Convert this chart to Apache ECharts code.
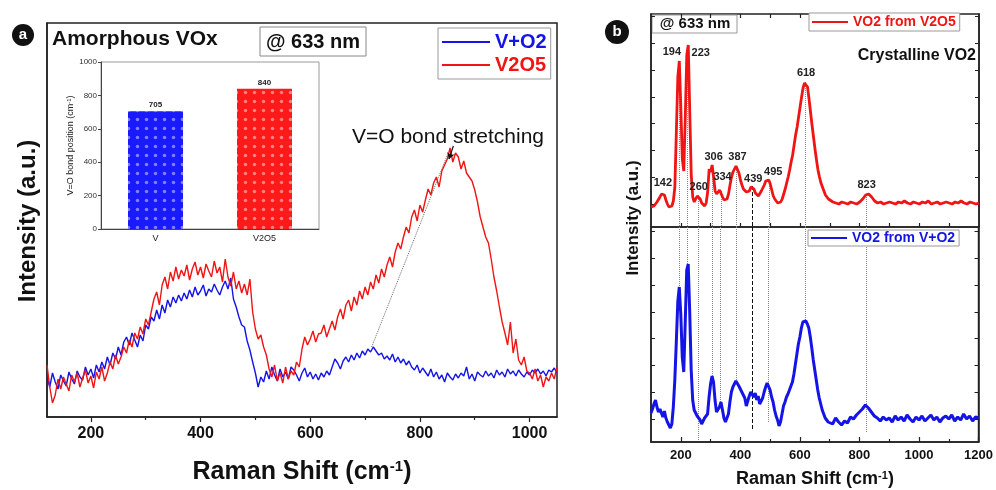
<!DOCTYPE html>
<html>
<head>
<meta charset="utf-8">
<script src="https://cdn.jsdelivr.net/npm/echarts@6/dist/echarts.min.js"></script>
<style>
  html, body { margin: 0; padding: 0; background: #fff; }
  #chart { width: 996px; height: 490px; }
</style>
</head>
<body>
<div id="chart"></div>
<script>
// sampling grid helper (x positions only)
function steps(a, b, s) {
  const r = [];
  for (let v = a; v <= b + 1e-9; v += s) r.push(v);
  return r;
}

// ---- panel a: amorphous VOx, 120..1050 cm-1 every 5 ----
const aX = steps(120, 1050, 5);
const aRed = [
  52, 30, 14, 22, 38, 28, 40, 33, 26, 42,
  35, 44, 30, 39, 47, 34, 41, 29, 45, 38,
  50, 36, 44, 55, 48, 62, 53, 60, 70, 64,
  77, 70, 84, 78, 90, 83, 98, 92, 105, 118,
  125, 112, 132, 140, 128, 145, 136, 150, 138, 147,
  141, 152, 137, 148, 155, 142, 150, 139, 153, 146,
  140, 156, 144, 150, 135, 158, 140, 131, 145, 128,
  136, 124, 133, 122, 138, 105, 88, 78, 82, 70,
  62, 48, 40, 52, 36, 44, 34, 50, 38, 46,
  42, 55, 50, 68, 80, 72, 78, 86, 75, 83,
  84, 92, 80, 88, 96, 87, 100, 108, 98, 112,
  117, 106, 120, 112, 126, 118, 130, 122, 135, 128,
  142, 134, 148, 140, 152, 160, 150, 165, 174, 168,
  180, 190, 184, 200, 207, 196, 212, 205, 217, 228,
  222, 234, 240, 230, 246, 252, 258, 269, 255, 264,
  260, 248, 256, 244, 240, 236, 227, 215, 200, 190,
  180, 174, 158, 140, 126, 110, 95, 84, 72, 95,
  64, 78, 57, 52, 60, 46, 44, 38, 48, 36,
  42, 30, 40, 36, 44, 38, 50
];
const aBlue = [
  40, 30, 44, 35, 28, 42, 36, 31, 45, 38,
  33, 46, 40, 37, 50, 42, 48, 39, 52, 45,
  55, 48, 60, 52, 64, 58, 70, 62, 75, 80,
  72, 84, 77, 70, 82, 76, 92, 88, 100, 96,
  107, 98, 112, 104, 117, 110, 120, 114, 122, 116,
  124, 118, 127, 120, 130, 122, 126, 132, 121, 128,
  125, 133, 127, 122, 130, 136, 128, 139, 118, 110,
  100, 92, 90, 76, 67, 55, 44, 30, 40, 35,
  46, 38, 50, 42, 36, 48, 40, 45, 38, 50,
  47, 42, 36, 44, 49, 40, 45, 38, 43, 37,
  44, 40, 46, 42, 50, 58, 54, 48, 56, 60,
  55, 62, 57, 64, 59, 66, 62, 68, 65, 70,
  66, 62, 64, 58, 61, 57, 63, 55, 60, 54,
  58, 52, 56, 50, 47, 52, 44, 49, 45, 41,
  48, 40, 45, 38, 42, 35, 44, 40, 37, 43,
  39, 44, 41, 50, 38, 43, 36, 45, 42, 40,
  46, 41, 44, 39, 47, 42, 45, 40, 48, 43,
  46, 41, 47, 43, 40, 45, 42, 47, 44, 48,
  43, 46, 41, 47, 45, 49, 44
];
const aTicks = [200, 400, 600, 800, 1000];
const aMinor = [300, 500, 700, 900];
const bondLink = [[712, 70], [850, 262]];   // blue peak -> red peak
const bondArrow = [[861, 271], [853, 258]];

// inset bars
const insetCats = ['V', 'V2O5'];
const insetVals = [705, 840];

// ---- panel b: crystalline VO2 ----
const bX = steps(100, 695, 5).concat(steps(700, 1200, 10));
const bRed = [
  20, 22, 21, 23, 25, 27, 30, 33, 34, 32,
  27, 23, 20, 19, 21, 26, 40, 95, 150, 166,
  120, 68, 56, 110, 172, 182, 115, 52, 30, 25,
  27, 31, 32, 28, 24, 22, 21, 24, 35, 58,
  55, 62, 50, 36, 33, 35, 37, 36, 30, 27,
  26, 28, 33, 42, 50, 55, 58, 61, 60, 54,
  47, 42, 38, 36, 35, 33, 36, 40, 41, 38,
  34, 32, 31, 33, 36, 39, 42, 46, 48, 47,
  43, 37, 31, 28, 26, 24, 23, 25, 28, 33,
  38, 44, 50, 57, 65, 72, 82, 92, 100, 110,
  120, 130, 139, 144, 145, 140, 128, 115, 102, 90,
  78, 67, 57, 50, 44, 40, 36, 32, 30, 28,
  27, 25, 24, 23, 25, 24, 23, 25, 24, 23,
  25, 28, 32, 33, 30, 26, 24, 25, 23, 24,
  25, 24, 23, 25, 24, 26, 24, 23, 25, 24,
  23, 25, 24, 26, 23, 24, 25, 23, 24, 25,
  24, 23, 25, 24, 26, 24, 23, 25, 24, 23,
  24
];
const bBlue = [
  29, 33, 38, 42, 35, 30, 33, 29, 25, 31,
  24, 20, 17, 14, 18, 35, 62, 100, 140, 155,
  128, 85, 70, 120, 172, 178, 130, 72, 42, 32,
  30, 26, 24, 22, 18, 20, 24, 22, 28, 45,
  58, 66, 60, 42, 30, 29, 35, 40, 32, 24,
  20, 22, 28, 40, 50, 55, 58, 61, 60, 56,
  54, 50, 52, 44, 36, 38, 46, 50, 51, 45,
  49, 42, 46, 38, 40, 44, 50, 55, 59, 58,
  52, 45, 40, 32, 26, 22, 16, 20, 28, 36,
  40, 45, 48, 52, 56, 60, 68, 78, 88, 98,
  105, 114, 120, 122, 121, 118, 114, 105, 94, 82,
  72, 62, 52, 44, 38, 32, 28, 24, 22, 20,
  22, 18, 24, 20, 17, 21, 19, 25, 23, 27,
  30, 33, 37, 34, 30, 26, 24, 21, 25, 22,
  24, 20, 26, 22, 25, 21, 27, 23, 20, 25,
  22, 26, 21, 24, 27, 22, 25, 20, 24, 26,
  23, 27, 21, 25, 22, 28, 23, 26, 21, 25,
  24
];
const bTicks = [200, 400, 600, 800, 1000, 1200];
const bMinor = [300, 500, 700, 900, 1100];
const bYTicks = [23, 50, 77, 104, 130, 157, 184, 211];
const peakNames = ['142', '194', '223', '260', '306', '334', '387', '439', '495', '618', '823'];
const peakLabelPos = [[140, 44], [170, 175], [267, 174], [260, 40], [310, 70], [340, 50],
  [390, 70], [443, 48], [510, 55], [620, 154], [823, 42]];
const peakLines = [194, 223, 260, 306, 334, 387, 439, 495, 618, 823];
const bLineEnds = [155, 178, 2, 66, 40, 61, 12, 20, 122, 9];

const RED = '#f01414';
const BLUE = '#1414e6';
const FONT = '"Liberation Sans", Arial, sans-serif';

const zip = (xs, ys) => xs.map((x, i) => [x, ys[i]]);
const nearest = x => bX.reduce((best, v, i) => Math.abs(v - x) < Math.abs(bX[best] - x) ? i : best, 0);
const redAt = x => bRed[nearest(x)];
const plain = v => String(v);

const chart = echarts.init(document.getElementById('chart'), null, { renderer: 'canvas' });

const plainY = (grid, max, pos) => ({
  gridIndex: grid, type: 'value', min: 0, max: max, position: pos,
  axisLine: { show: true, onZero: false, lineStyle: { color: '#222', width: 1.5 } },
  axisTick: { show: true, inside: true, length: 4, customValues: bYTicks, lineStyle: { color: '#222' } },
  axisLabel: { show: false }, splitLine: { show: false }
});
const tickX = (grid, pos, ticks, len, inside) => ({
  gridIndex: grid, type: 'value', min: 100, max: 1200, position: pos,
  axisLine: { show: false, onZero: false },
  axisTick: { show: true, inside: inside, length: len, customValues: ticks, lineStyle: { color: '#222', width: 1.2 } },
  axisLabel: { show: false }, splitLine: { show: false }
});

chart.setOption({
  animation: false,
  textStyle: { fontFamily: FONT },
  grid: [
    { left: 47, top: 23, width: 510, height: 394, show: true, borderColor: '#222', borderWidth: 1.5 },
    { left: 101, top: 62, width: 218, height: 167, show: true, borderColor: '#999', borderWidth: 1, backgroundColor: '#fff' },
    { left: 651, top: 14, width: 328, height: 213, show: true, borderColor: '#222', borderWidth: 1.5 },
    { left: 651, top: 227, width: 328, height: 215, show: true, borderColor: '#222', borderWidth: 1.5 }
  ],
  legend: [
    {
      left: 438, top: 28, orient: 'vertical', icon: 'rect', itemWidth: 48, itemHeight: 2, itemGap: 3,
      padding: [4, 4, 4, 4], borderColor: '#999', borderWidth: 1, backgroundColor: '#fff',
      textStyle: { fontSize: 20, fontWeight: 'bold', fontFamily: FONT },
      data: [{ name: 'V+O2', textStyle: { color: BLUE } }, { name: 'V2O5', textStyle: { color: RED } }]
    },
    {
      left: 809, top: 13, icon: 'rect', itemWidth: 36, itemHeight: 2,
      padding: [2, 4, 2, 3], borderColor: '#999', borderWidth: 1, backgroundColor: '#fff',
      textStyle: { fontSize: 14, fontWeight: 'bold', fontFamily: FONT },
      data: [{ name: 'VO2 from V2O5', textStyle: { color: RED } }]
    },
    {
      left: 808, top: 230, icon: 'rect', itemWidth: 36, itemHeight: 2,
      padding: [1, 4, 1, 3], borderColor: '#999', borderWidth: 1, backgroundColor: '#fff',
      textStyle: { fontSize: 14, fontWeight: 'bold', fontFamily: FONT },
      data: [{ name: 'VO2 from V+O2', textStyle: { color: BLUE } }]
    }
  ],
  xAxis: [
    {
      gridIndex: 0, type: 'value', min: 120, max: 1050,
      axisLine: { onZero: false, lineStyle: { color: '#222', width: 1.5 } },
      axisTick: { customValues: aTicks, length: 5, lineStyle: { color: '#222', width: 1.2 } },
      axisLabel: { customValues: aTicks, formatter: plain, fontSize: 16, fontWeight: 'bold', color: '#111', margin: 9 },
      splitLine: { show: false }
    },
    {
      gridIndex: 0, type: 'value', min: 120, max: 1050, position: 'bottom',
      axisLine: { show: false, onZero: false },
      axisTick: { customValues: aMinor, length: 3, lineStyle: { color: '#222', width: 1.2 } },
      axisLabel: { show: false }, splitLine: { show: false }
    },
    {
      gridIndex: 1, type: 'category', data: insetCats,
      axisLine: { lineStyle: { color: '#444' } },
      axisTick: { length: 3, lineStyle: { color: '#444' } },
      axisLabel: { fontSize: 9, color: '#222', margin: 5 }
    },
    tickX(2, 'bottom', steps(200, 1100, 100), 4, true),
    tickX(2, 'top', steps(200, 1100, 100), 4, true),
    {
      gridIndex: 3, type: 'value', min: 100, max: 1200, position: 'bottom',
      axisLine: { onZero: false, lineStyle: { color: '#222', width: 1.5 } },
      axisTick: { inside: true, customValues: bTicks, length: 5, lineStyle: { color: '#222', width: 1.2 } },
      axisLabel: { customValues: bTicks, formatter: plain, fontSize: 13, fontWeight: 'bold', color: '#111', margin: 7 },
      splitLine: { show: false }
    },
    tickX(3, 'bottom', bMinor, 3, true)
  ],
  yAxis: [
    {
      gridIndex: 0, type: 'value', min: 0, max: 394,
      axisLine: { show: true, onZero: false, lineStyle: { color: '#222', width: 1.5 } },
      axisTick: { show: false }, axisLabel: { show: false }, splitLine: { show: false }
    },
    {
      gridIndex: 1, type: 'value', min: 0, max: 1000, interval: 200,
      name: '{n|V=O bond position (cm}{s|-1}{n|)}', nameLocation: 'middle', nameGap: 24,
      nameTextStyle: { rich: { n: { fontSize: 9, color: '#222' }, s: { fontSize: 6, color: '#222', verticalAlign: 'top' } } },
      axisLine: { show: true, onZero: false, lineStyle: { color: '#444' } },
      axisTick: { show: true, length: 3, lineStyle: { color: '#444' } },
      axisLabel: { formatter: plain, fontSize: 8, color: '#333', margin: 4 },
      splitLine: { show: false }
    },
    plainY(2, 213, 'left'),
    plainY(3, 215, 'left'),
    plainY(2, 213, 'right'),
    plainY(3, 215, 'right')
  ],
  series: [
    {
      name: 'V+O2', type: 'line', xAxisIndex: 0, yAxisIndex: 0, data: zip(aX, aBlue),
      showSymbol: false, symbol: 'none', lineStyle: { color: BLUE, width: 1.4 }, itemStyle: { color: BLUE }
    },
    {
      name: 'V2O5', type: 'line', xAxisIndex: 0, yAxisIndex: 0, data: zip(aX, aRed),
      showSymbol: false, symbol: 'none', lineStyle: { color: RED, width: 1.4 }, itemStyle: { color: RED },
      markLine: {
        silent: true, animation: false, label: { show: false },
        data: [
          [{ coord: bondLink[0], symbol: 'none', lineStyle: { color: '#666', type: 'dotted', width: 1 } },
           { coord: bondLink[1], symbol: 'none' }],
          [{ coord: bondArrow[0], symbol: 'none', lineStyle: { color: '#111', type: 'solid', width: 1.2 } },
           { coord: bondArrow[1], symbol: 'arrow', symbolSize: 6 }]
        ]
      }
    },
    {
      name: 'inset', type: 'bar', xAxisIndex: 2, yAxisIndex: 1, barWidth: 55,
      data: insetVals.map((v, i) => ({
        value: v,
        itemStyle: {
          color: i === 0 ? '#1a1aff' : '#ff1a1a',
          decal: { symbol: 'circle', symbolSize: 0.7, color: 'rgba(255,255,255,0.45)', dashArrayX: [5, 4], dashArrayY: [5, 4] }
        }
      })),
      label: { show: true, position: 'top', fontSize: 8, fontWeight: 'bold', color: '#222', distance: 2 }
    },
    {
      name: 'VO2 from V2O5', type: 'line', xAxisIndex: 3, yAxisIndex: 2, data: zip(bX, bRed), z: 3,
      showSymbol: false, symbol: 'none', lineStyle: { color: RED, width: 2.8 }, itemStyle: { color: RED },
      markLine: {
        silent: true, animation: false, symbol: 'none', label: { show: false }, z: 1,
        data: peakLines.map(x => [
          { coord: [x, redAt(x)], lineStyle: { color: x === 439 ? '#111' : '#888', type: x === 439 ? 'dashed' : 'dotted', width: 1 } },
          { coord: [x, 0] }
        ])
      },
      markPoint: {
        silent: true, animation: false, symbol: 'circle', symbolSize: 1, itemStyle: { color: 'rgba(0,0,0,0)' },
        label: { show: true, position: 'inside', formatter: p => p.name, fontSize: 11, fontWeight: 'bold', color: '#222' },
        data: peakNames.map((n, i) => ({ name: n, coord: peakLabelPos[i] }))
      }
    },
    {
      name: 'VO2 from V+O2', type: 'line', xAxisIndex: 5, yAxisIndex: 3, data: zip(bX, bBlue), z: 3,
      showSymbol: false, symbol: 'none', lineStyle: { color: BLUE, width: 3 }, itemStyle: { color: BLUE },
      markLine: {
        silent: true, animation: false, symbol: 'none', label: { show: false }, z: 1,
        data: peakLines.map((x, i) => [
          { coord: [x, 215], lineStyle: { color: x === 439 ? '#111' : '#888', type: x === 439 ? 'dashed' : 'dotted', width: 1 } },
          { coord: [x, bLineEnds[i]] }
        ])
      }
    }
  ],
  graphic: [
    { type: 'circle', shape: { cx: 23, cy: 35, r: 11 }, style: { fill: '#111' } },
    { type: 'text', x: 23, y: 35, style: { text: 'a', fill: '#fff', fontSize: 15, fontWeight: 'bold', fontFamily: FONT, align: 'center', verticalAlign: 'middle' } },
    { type: 'circle', shape: { cx: 617, cy: 32, r: 12 }, style: { fill: '#111' } },
    { type: 'text', x: 617, y: 32, style: { text: 'b', fill: '#fff', fontSize: 15, fontWeight: 'bold', fontFamily: FONT, align: 'center', verticalAlign: 'middle' } },
    { type: 'text', x: 52, y: 39, style: { text: 'Amorphous VOx', fill: '#111', fontSize: 21, fontWeight: 'bold', fontFamily: FONT, verticalAlign: 'middle' } },
    { type: 'rect', shape: { x: 260, y: 27, width: 106, height: 29 }, style: { fill: '#fff', stroke: '#888', lineWidth: 1 } },
    { type: 'text', x: 313, y: 42, style: { text: '@ 633 nm', fill: '#111', fontSize: 20, fontWeight: 'bold', fontFamily: FONT, align: 'center', verticalAlign: 'middle' } },
    { type: 'text', x: 352, y: 137, style: { text: 'V=O bond stretching', fill: '#111', fontSize: 21, fontFamily: FONT, verticalAlign: 'middle' } },
    {
      type: 'text', x: 302, y: 472,
      style: {
        text: '{n|Raman Shift (cm}{s|-1}{n|)}', align: 'center', verticalAlign: 'middle',
        rich: { n: { fontSize: 25, fontWeight: 'bold', fontFamily: FONT, fill: '#111' },
                s: { fontSize: 15, fontWeight: 'bold', fontFamily: FONT, fill: '#111', verticalAlign: 'top' } }
      }
    },
    {
      type: 'text', x: 28, y: 221, rotation: Math.PI / 2,
      style: { text: 'Intensity (a.u.)', fill: '#111', fontSize: 24, fontWeight: 'bold', fontFamily: FONT, align: 'center', verticalAlign: 'middle' }
    },
    { type: 'rect', shape: { x: 652, y: 15, width: 85, height: 18 }, style: { fill: '#fff', stroke: '#999', lineWidth: 1 } },
    { type: 'text', x: 695, y: 24, style: { text: '@ 633 nm', fill: '#111', fontSize: 15, fontWeight: 'bold', fontFamily: FONT, align: 'center', verticalAlign: 'middle' } },
    { type: 'text', x: 976, y: 56, style: { text: 'Crystalline VO2', fill: '#111', fontSize: 16, fontWeight: 'bold', fontFamily: FONT, align: 'right', verticalAlign: 'middle' } },
    {
      type: 'text', x: 815, y: 479,
      style: {
        text: '{n|Raman Shift (cm}{s|-1}{n|)}', align: 'center', verticalAlign: 'middle',
        rich: { n: { fontSize: 18, fontWeight: 'bold', fontFamily: FONT, fill: '#111' },
                s: { fontSize: 11, fontWeight: 'bold', fontFamily: FONT, fill: '#111', verticalAlign: 'top' } }
      }
    },
    {
      type: 'text', x: 633, y: 218, rotation: Math.PI / 2,
      style: { text: 'Intensity (a.u.)', fill: '#111', fontSize: 17, fontWeight: 'bold', fontFamily: FONT, align: 'center', verticalAlign: 'middle' }
    }
  ]
});
</script>
</body>
</html>
